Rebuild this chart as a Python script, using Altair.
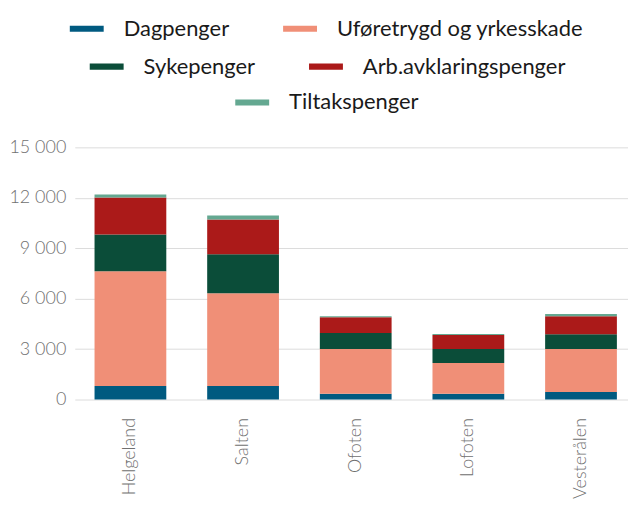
import altair as alt
import pandas as pd

regions = ["Helgeland", "Salten", "Ofoten", "Lofoten", "Vesterålen"]
series = ["Dagpenger", "Uføretrygd og yrkesskade", "Sykepenger",
          "Arb.avklaringspenger", "Tiltakspenger"]
dagpenger = [800, 800, 340, 340, 455]
uforetrygd = [6830, 5525, 2665, 1835, 2550]
sykepenger = [2190, 2310, 945, 830, 885]
arbavklaring = [2195, 2075, 950, 830, 1070]
tiltakspenger = [175, 240, 60, 60, 120]
colors = ["#005a80", "#f08f77", "#0b4d39", "#ab1a19", "#64a891"]
y_ticks = [0, 3000, 6000, 9000, 12000, 15000]

values = [dagpenger, uforetrygd, sykepenger, arbavklaring, tiltakspenger]
rows = []
for si, (s, vals) in enumerate(zip(series, values)):
    for r, v in zip(regions, vals):
        rows.append({"region": r, "serie": s, "order": si, "value": v})
df = pd.DataFrame(rows)

base = alt.Chart(df)

bars = base.mark_bar().encode(
    x=alt.X("region:N", sort=regions,
            scale=alt.Scale(paddingInner=0.363, paddingOuter=0.137, align=0.64),
            axis=alt.Axis(title=None, labelAngle=-90, domain=False, ticks=False,
                          labelPadding=18, labelFont="Lato", labelFontWeight=300,
                          labelFontSize=18, labelColor="#707070", grid=False)),
    y=alt.Y("value:Q", stack="zero",
            scale=alt.Scale(domain=[0, 15000], nice=False),
            axis=alt.Axis(title=None, values=y_ticks, domain=False, ticks=False,
                          labelPadding=9, labelFont="Lato", labelFontWeight=300,
                          labelFontSize=18, labelColor="#707070",
                          gridColor="#dcdcdc", gridWidth=1,
                          labelExpr="replace(format(datum.value, ','), ',', ' ')")),
    color=alt.Color("serie:N", scale=alt.Scale(domain=series, range=colors), legend=None),
    order=alt.Order("order:Q", sort="ascending"),
)

symbol_path = "M-1,-0.18L1,-0.18L1,0.18L-1,0.18Z"
legend_groups = [([0, 1], -5, -136), ([2, 3], 15, -98), ([4], 161, -62)]
layers = [bars]
for idxs, lx, ly in legend_groups:
    dom = [series[i] for i in idxs]
    rng = [colors[i] for i in idxs]
    leg = base.transform_filter("false").mark_bar().encode(
        color=alt.Color("serie:N", scale=alt.Scale(domain=dom, range=rng),
                        legend=alt.Legend(orient="none", legendX=lx, legendY=ly,
                                          direction="horizontal", title=None,
                                          symbolType=symbol_path, symbolSize=1156,
                                          symbolStrokeWidth=0, symbolOpacity=1,
                                          labelFont="Lato", labelFontSize=22,
                                          labelColor="#1a1a1a", labelOffset=20,
                                          columnPadding=54, labelLimit=400))
    )
    layers.append(leg)

chart = alt.layer(*layers).resolve_scale(color="independent").properties(
    width=555, height=253,
    padding={"left": 0, "top": 3, "right": 0, "bottom": 0},
).configure_view(stroke=None)

chart.save("out.html", embed_options={"renderer": "svg", "actions": False})
